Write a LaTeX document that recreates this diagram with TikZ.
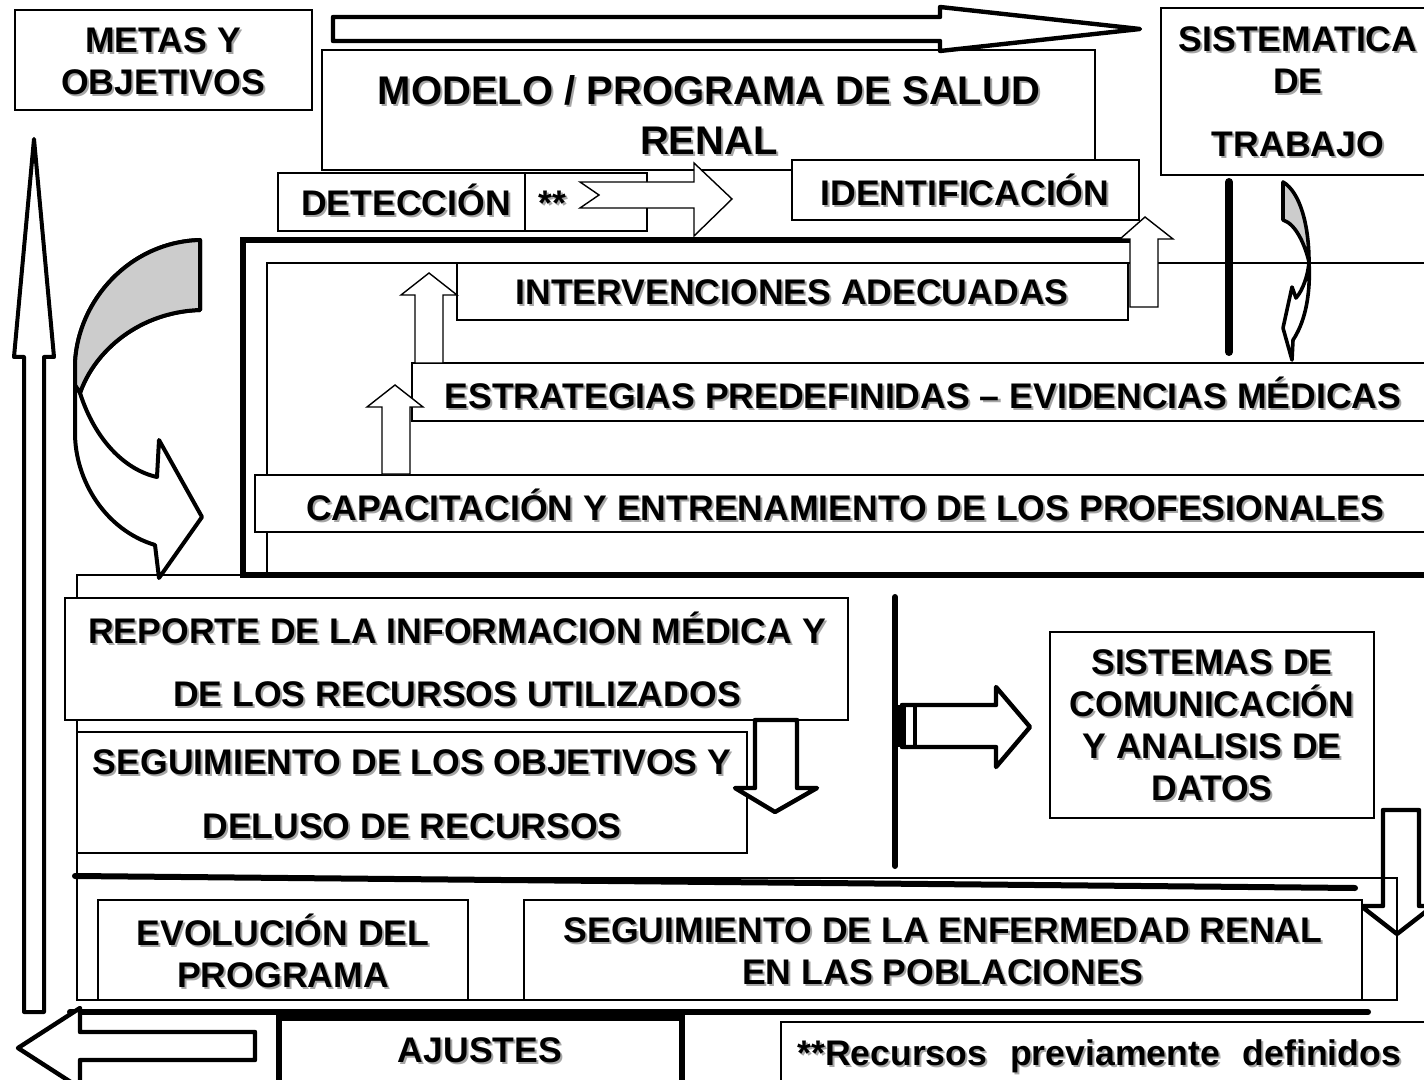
\documentclass[tikz,border=0pt]{standalone}
\usepackage{fontspec}
\setmainfont{Liberation Sans}
\usetikzlibrary{fit}
\definecolor{fill_gray}{gray}{0.8}
\definecolor{shade_gray}{gray}{0.65}
\tikzset{
  thin_box/.style = {draw=black, fill=white, line width=0.7pt, inner sep=0pt},
  thick_box/.style = {draw=black, fill=white, line width=2.6pt, inner sep=0pt},
  box_text/.style = {align=center, inner sep=0pt,
    font=\fontsize{17.8}{21}\selectfont\bfseries},% texto de las cajas
  title_text/.style = {box_text, font=\fontsize{20}{25}\selectfont\bfseries},
  block_arrow/.style = {draw=black, fill=white, line width=2.2pt, line join=round},
  thin_arrow/.style = {draw=black, fill=white, line width=0.7pt},
  heavy_line/.style = {line width=3pt, line cap=round}
}
% texto con sombra gris
\newcommand{\shadowtext}[4][]{%
  \node[box_text, #1, text=shade_gray, xshift=1pt, yshift=-1pt] at (#3) {#4};
  \node[box_text, #1] (#2) at (#3) {#4};}

\begin{document}
\begin{tikzpicture}[x=0.5pt, y=-0.5pt]
    \useasboundingbox (0,0) rectangle (1424,1080);
    \clip (0,0) rectangle (1424,1080);
    % parte superior
    \node[thin_box, fit={(322,50) (1095,170)}] (modelo_box) {};
    \node[thin_box, fit={(15,10) (312,110)}] (metas_box) {};
    \node[thin_box, fit={(1161,8) (1440,175)}] (sistematica_box) {};
    \draw[block_arrow] (333,17) -- (940,17) -- (940,7) -- (1140,29) -- (940,51)
      -- (940,41) -- (333,41) -- cycle;
    \shadowtext{metas}{163,61}{METAS Y\\OBJETIVOS}
    \shadowtext[title_text]{modelo}{709,115}{MODELO / PROGRAMA DE SALUD\\RENAL}
    \shadowtext{sistematica}{1298,92}{SISTEMATICA\\DE\\[10.5pt]TRABAJO}
    % marco grueso
    \draw[line width=0.7pt] (1440,263) -- (267,263) -- (267,575);
    \draw[line width=3pt] (1130,240) -- (243,240) -- (243,575) -- (1440,575);
    \node[thin_box, fit={(457,263) (1128,320)}] (intervenciones_box) {};
    \node[thin_box, fit={(412,363) (1440,421)}] (estrategias_box) {};
    \node[thin_box, fit={(255,475) (1440,532)}] (capacitacion_box) {};
    \shadowtext{intervenciones}{792,292}{INTERVENCIONES ADECUADAS}
    \shadowtext{estrategias}{923,393}{ESTRATEGIAS PREDEFINIDAS – EVIDENCIAS MÉDICAS}
    \shadowtext{capacitacion}{845,505}{CAPACITACIÓN Y ENTRENAMIENTO DE LOS PROFESIONALES}
    \draw[thin_arrow] (415,363) -- (415,295) -- (401,295) -- (429,273) -- (457,295)
      -- (443,295) -- (443,363) -- cycle;
    \draw[thin_arrow] (382,474) -- (382,407) -- (367,407) -- (395,385) -- (423,407)
      -- (410,407) -- (410,474) -- cycle;
    \draw[thin_arrow] (1130,307) -- (1130,239) -- (1120,239) -- (1145,217) -- (1173,239)
      -- (1158,239) -- (1158,307) -- cycle;
    % deteccion
    \node[thin_box, fit={(278,173) (525,231)}] (deteccion_box) {};
    \node[thin_box, fit={(525,173) (647,231)}] (recursos_mark_box) {};
    \draw[thin_arrow] (580,182) -- (694,182) -- (694,163) -- (732,199) -- (694,236)
      -- (694,208) -- (580,208) -- (599,195) -- cycle;
    \node[thin_box, fit={(792,160) (1139,220)}] (identificacion_box) {};
    \shadowtext[anchor=base]{deteccion}{406,216}{DETECCIÓN}
    \shadowtext[anchor=base]{recursos_mark}{552,216}{**}
    \shadowtext{identificacion}{965,190}{IDENTIFICACIÓN}
    % barra y flecha curva de la derecha
    \draw[line width=4pt, line cap=round] (1229,182) -- (1229,352);
    \draw[block_arrow, line width=1.8pt] (1309,262) .. controls (1311,300) and (1303,325) .. (1293,340)
      -- (1292,360) -- (1283,328) -- (1292,287) -- (1296,298)
      .. controls (1303,290) and (1308,275) .. (1309,262) -- cycle;
    \draw[block_arrow, fill=fill_gray, line width=1.8pt] (1283,182) -- (1283,220)
      .. controls (1296,224) and (1305,245) .. (1309,262)
      .. controls (1309,225) and (1300,192) .. (1283,182) -- cycle;
    % flecha curva de la izquierda
    \draw[block_arrow, line width=2pt] (200,240) -- (200,310) .. controls (140,312) and (95,350) .. (80,393)
      .. controls (95,440) and (125,470) .. (157,477) -- (159,440) -- (202,517)
      -- (159,578) -- (155,545) .. controls (105,530) and (75,480) .. (75,433)
      -- (75,363) .. controls (78,300) and (130,242) .. (200,240) -- cycle;
    \draw[block_arrow, fill=fill_gray, line width=2pt] (200,240) -- (200,310)
      .. controls (140,312) and (95,350) .. (80,393) -- (75,385)
      -- (75,363) .. controls (78,300) and (130,242) .. (200,240) -- cycle;
    % parte inferior
    \draw[line width=0.7pt] (243,575) -- (77,575) -- (77,878);
    \node[thin_box, fit={(65,598) (848,720)}] (reporte_box) {};
    \node[thin_box, fit={(77,732) (747,853)}] (seguimiento_box) {};
    \shadowtext{reporte}{457,659}{REPORTE DE LA INFORMACION MÉDICA Y\\[10.5pt]DE LOS RECURSOS UTILIZADOS}
    \shadowtext{seguimiento}{412,794}{SEGUIMIENTO DE LOS OBJETIVOS Y\\[11pt]DELUSO DE RECURSOS}
    \draw[block_arrow] (755,720) -- (797,720) -- (797,788) -- (817,788) -- (775,812)
      -- (735,788) -- (755,788) -- cycle;
    \draw[line width=3pt, line cap=round] (895,597) -- (895,866);
    \draw[block_arrow] (902,705) -- (996,705) -- (996,687) -- (1030,727) -- (996,767)
      -- (996,747) -- (902,747) -- cycle;
    \fill (895,705) rectangle (906,747);
    \draw[line width=1.6pt] (915,705) -- (915,747);
    \node[thin_box, fit={(1050,632) (1374,818)}] (comunicacion_box) {};
    \shadowtext{comunicacion}{1212,725.5}{SISTEMAS DE\\COMUNICACIÓN\\Y ANALISIS DE\\DATOS}
    \draw[block_arrow] (1383,810) -- (1419,810) -- (1419,906) -- (1433,906) -- (1397,934)
      -- (1361,906) -- (1383,906) -- cycle;
    \draw[line width=0.7pt] (77,878) rectangle (1397,1000);
    \node[thin_box, fit={(98,900) (468,1000)}] (evolucion_box) {};
    \node[thin_box, fit={(524,900) (1362,1000)}] (enfermedad_box) {};
    \shadowtext{evolucion}{283,951}{EVOLUCIÓN DEL\\PROGRAMA}
    \shadowtext{enfermedad}{943,951}{SEGUIMIENTO DE LA ENFERMEDAD RENAL\\EN LAS POBLACIONES}
    \draw[heavy_line] (75,876) -- (1355,888);
    \draw[heavy_line] (70,1012) -- (1368,1012);
    % flechas de los bordes
    \draw[block_arrow, line width=2pt] (24,1012) -- (24,357) -- (14,357) -- (34,139) -- (54,357)
      -- (44,357) -- (44,1012) -- cycle;
    \draw[block_arrow] (255,1032) -- (80,1032) -- (80,1008) -- (18,1048) -- (80,1088)
      -- (80,1060) -- (255,1060) -- cycle;
    \node[thick_box, fit={(279,1018) (682,1090)}] (ajustes_box) {};
    \node[thin_box, line width=1pt, fit={(781,1022) (1440,1090)}] (nota_box) {};
    \shadowtext{ajustes}{480,1050}{AJUSTES}
    \shadowtext[anchor=base west]{nota}{797,1065}{**Recursos\hspace{6.5pt} previamente\hspace{6.5pt} definidos}
\end{tikzpicture}
\end{document}
